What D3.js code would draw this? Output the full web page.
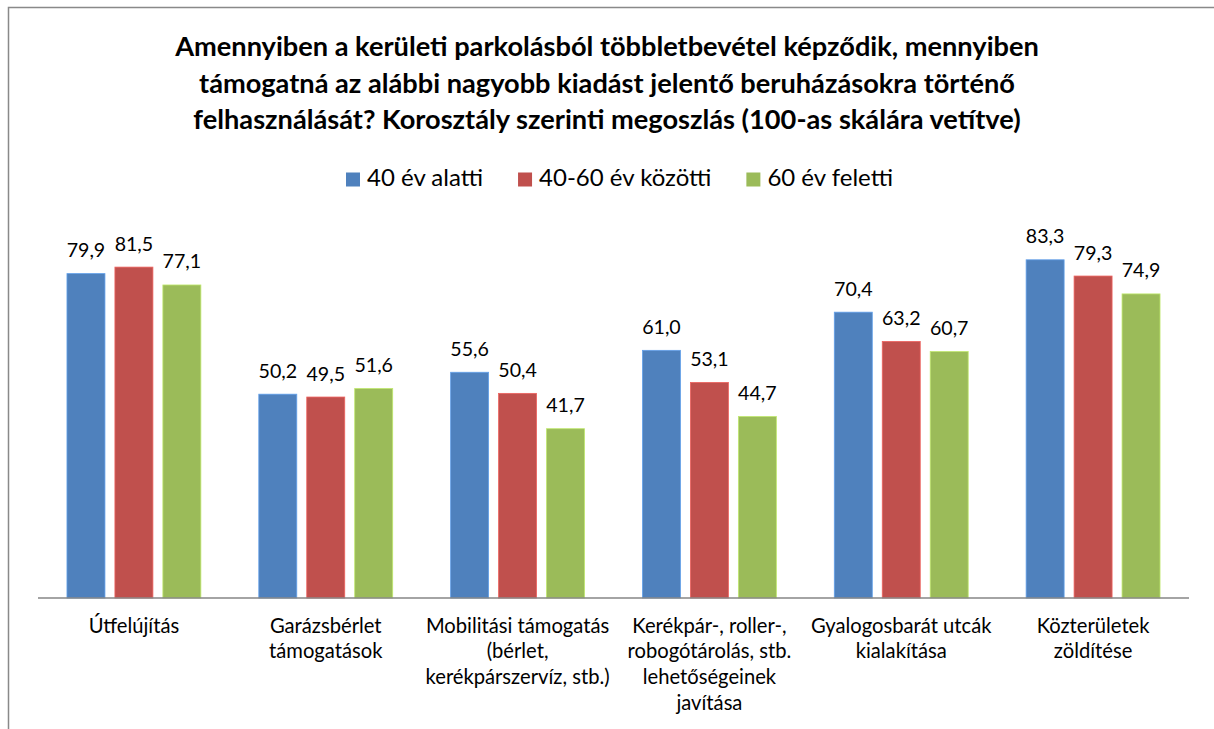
<!DOCTYPE html>
<html>
<head>
<meta charset="utf-8">
<script src="https://cdn.jsdelivr.net/npm/d3@7"></script>
<style>
  html, body { margin: 0; padding: 0; background: #fff; }
  svg { display: block; }
  text { font-family: Lato, "Open Sans", sans-serif; fill: #000; }
</style>
</head>
<body>
<svg id="chart" width="1214" height="729"></svg>
<script>
// Age groups (series) and their colours
const series = ["40 év alatti", "40-60 év közötti", "60 év feletti"];
const seriesColors = ["#4F81BD", "#C0504D", "#9BBB59"];

// Categories, each tick label split into its display lines
const categories = [
  "Útfelújítás",
  "Garázsbérlet támogatások",
  "Mobilitási támogatás (bérlet, kerékpárszervíz, stb.)",
  "Kerékpár-, roller-, robogótárolás, stb. lehetőségeinek javítása",
  "Gyalogosbarát utcák kialakítása",
  "Közterületek zöldítése"
];
const tickLabelLines = [
  ["Útfelújítás"],
  ["Garázsbérlet", "támogatások"],
  ["Mobilitási támogatás", "(bérlet,", "kerékpárszervíz, stb.)"],
  ["Kerékpár-, roller-,", "robogótárolás, stb.", "lehetőségeinek", "javítása"],
  ["Gyalogosbarát utcák", "kialakítása"],
  ["Közterületek", "zöldítése"]
];

// Scores on a 0-100 scale, one array per age group
const under40 = [79.9, 50.2, 55.6, 61.0, 70.4, 83.3];
const between40and60 = [81.5, 49.5, 50.4, 53.1, 63.2, 79.3];
const over60 = [77.1, 51.6, 41.7, 44.7, 60.7, 74.9];
const seriesValues = [under40, between40and60, over60];

const titleLines = [
  "Amennyiben a kerületi parkolásból többletbevétel képződik, mennyiben",
  "támogatná az alábbi nagyobb kiadást jelentő beruházásokra történő",
  "felhasználását? Korosztály szerinti megoszlás (100-as skálára vetítve)"
];

const svg = d3.select("#chart");
const fmt = v => v.toFixed(1).replace(".", ",");

// Outer frame (left and top edges of the chart area)
svg.append("path")
  .attr("d", "M8.5,729 V7.5 H1214")
  .attr("fill", "none")
  .attr("stroke", "#898989")
  .attr("stroke-width", 1.5);

// Title
svg.append("g").selectAll("text")
  .data(titleLines)
  .join("text")
  .attr("x", 607)
  .attr("y", (d, i) => 56 + i * 36.5)
  .attr("text-anchor", "middle")
  .style("font-weight", "bold")
  .style("font-size", "27.2px")
  .text(d => d);

// Scales
const plotLeft = 38, plotRight = 1189, baseY = 598, topY = 192;
const x0 = d3.scaleBand().domain(categories).range([plotLeft, plotRight])
  .paddingInner(0.302).paddingOuter(0.151);
const x1 = d3.scaleBand().domain(series).range([0, x0.bandwidth()])
  .paddingInner(0.208).paddingOuter(0);
const y = d3.scaleLinear().domain([0, 100]).range([baseY, topY]);
const color = d3.scaleOrdinal().domain(series).range(seriesColors);

// Bars
const rows = categories.map((c, i) => ({
  cat: c,
  vals: series.map((s, j) => ({ s, v: seriesValues[j][i] }))
}));

const groups = svg.append("g").selectAll("g")
  .data(rows)
  .join("g")
  .attr("transform", d => `translate(${x0(d.cat)},0)`);

groups.selectAll("rect")
  .data(d => d.vals)
  .join("rect")
  .attr("x", d => x1(d.s))
  .attr("y", d => y(d.v))
  .attr("width", x1.bandwidth())
  .attr("height", d => baseY - y(d.v))
  .attr("fill", d => color(d.s))
  .attr("stroke", d => d3.color(color(d.s)).brighter(0.6))
  .attr("stroke-width", 0.8);

// Value labels
groups.selectAll("text")
  .data(d => d.vals)
  .join("text")
  .attr("x", d => x1(d.s) + x1.bandwidth() / 2)
  .attr("y", d => y(d.v) - 16.5)
  .attr("text-anchor", "middle")
  .style("font-size", "19.6px")
  .text(d => fmt(d.v));

// Category axis
const axis = svg.append("g")
  .attr("transform", `translate(0,${baseY})`)
  .call(d3.axisBottom(x0).tickSize(0).tickPadding(0));
axis.select(".domain")
  .attr("stroke", "#868686")
  .attr("stroke-width", 1.5)
  .attr("d", `M${plotLeft},0H${plotRight}`);
axis.selectAll(".tick text").each(function (d, i) {
  const t = d3.select(this);
  t.text(null)
    .attr("y", 0)
    .attr("dy", null)
    .attr("fill", "#000")
    .style("font-size", "20.2px")
    .style("font-family", "Lato, 'Open Sans', sans-serif");
  tickLabelLines[i].forEach((line, k) => {
    t.append("tspan")
      .attr("x", 0)
      .attr("y", 34.5 + k * 25.7)
      .text(line);
  });
});

// Legend
const legend = svg.append("g");
const items = legend.selectAll("g")
  .data(series)
  .join("g");
items.append("rect")
  .attr("width", 14).attr("height", 14)
  .attr("y", 172.5)
  .attr("fill", d => color(d));
items.append("text")
  .attr("x", 21)
  .attr("y", 186)
  .style("font-size", "24px")
  .text(d => d);
let cursor = 0;
const widths = [];
items.each(function () {
  const w = d3.select(this).select("text").node().getComputedTextLength() + 21;
  widths.push(w);
});
const gap = 35;
const total = d3.sum(widths) + gap * (widths.length - 1);
cursor = 619.5 - total / 2;
items.attr("transform", (d, i) => {
  const tx = cursor;
  cursor += widths[i] + gap;
  return `translate(${tx},0)`;
});
</script>
</body>
</html>
